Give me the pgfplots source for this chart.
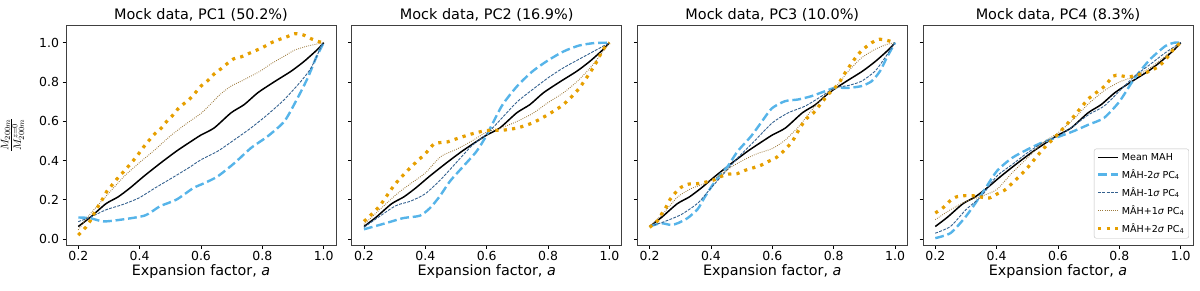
\documentclass[border=0pt]{standalone}
\usepackage{fontspec}
\setmainfont{DejaVu Sans}
\usepackage{pgfplots}
\pgfplotsset{compat=1.18}
\definecolor{cLB}{HTML}{56B4E9}
\definecolor{cOR}{HTML}{E69F00}
\definecolor{cDB}{HTML}{34618F}
\definecolor{cBR}{HTML}{9C7A3C}
\pgfplotsset{
  panel/.style={
    width=270bp, height=220bp, scale only axis,
    xmin=0.16, xmax=1.04, ymin=-0.03, ymax=1.09,
    xtick={0.2,0.4,0.6,0.8,1.0}, ytick={0,0.2,0.4,0.6,0.8,1.0},
    tick align=outside, xtick pos=bottom, ytick pos=left,
    major tick length=3.5bp,
    every tick/.style={black, line width=0.8bp},
    axis line style={black!75, line width=0.8bp},
    /pgf/number format/assume math mode=true,
    tick label style={font=\fontsize{12.5}{14}\selectfont},
    xticklabel style={yshift=1bp, /pgf/number format/.cd, fixed, fixed zerofill, precision=1},
    yticklabel style={/pgf/number format/.cd, fixed, fixed zerofill, precision=1},
    every axis title shift=3bp,
    title style={font=\fontsize{14.5}{16}\selectfont, inner sep=0pt, anchor=south},
    xlabel={Expansion factor, \textit{a}},
    xlabel style={at={(axis description cs:0.5,0)}, anchor=north, inner sep=0pt, yshift=-19bp, font=\fontsize{14.4}{16}\selectfont},
    legend image code/.code={\draw[##1] (0bp,0bp) -- (20bp,0bp);},
  },
  mean/.style={black, line width=1.5bp, smooth, tension=0.4},
  mtwo/.style={cLB, line width=2.4bp, dash pattern=on 8.8bp off 3.8bp, smooth, tension=0.4},
  mone/.style={cDB, line width=0.9bp, dash pattern=on 2.9bp off 1.3bp, smooth, tension=0.4},
  pone/.style={cBR, line width=0.9bp, dash pattern=on 0.8bp off 1.3bp, smooth, tension=0.4},
  ptwo/.style={cOR, line width=3.2bp, dash pattern=on 3.2bp off 5.2bp, smooth, tension=0.4},
}
\newcommand{\meandata}{(0.2,0.064)(0.24,0.112)(0.29,0.18)(0.33,0.215)(0.37,0.262)(0.413,0.319)(0.468,0.387)(0.522,0.45)(0.576,0.506)(0.6,0.53)(0.643,0.566)(0.698,0.643)(0.741,0.685)(0.785,0.745)(0.839,0.801)(0.894,0.855)(0.937,0.906)(0.98,0.966)(1.0,1.0)}
\begin{document}
\begin{tikzpicture}
\path[use as bounding box] (0bp,0bp) rectangle (1200bp,291bp);
% Panel 1
\begin{axis}[panel, at={(66bp,46bp)}, anchor=south west,
  title={Mock data, PC1 (50.2\%)},
  ylabel={$\frac{M_{200m}}{M^{z=0}_{200m}}$},
  ylabel style={at={(axis description cs:0,0.5)}, anchor=center, yshift=53.5bp, inner sep=0pt, font=\fontsize{16}{18}\selectfont}]
\addplot[mean] coordinates {\meandata};
\addplot[mtwo] coordinates {(0.2,0.11)(0.238,0.107)(0.281,0.09)(0.335,0.098)(0.417,0.12)(0.466,0.167)(0.52,0.201)(0.575,0.26)(0.611,0.285)(0.654,0.319)(0.709,0.387)(0.763,0.464)(0.817,0.523)(0.872,0.6)(0.915,0.719)(0.948,0.821)(0.975,0.923)(1.0,1.0)};
\addplot[mone] coordinates {(0.2,0.089)(0.24,0.112)(0.29,0.149)(0.343,0.175)(0.397,0.209)(0.45,0.26)(0.505,0.311)(0.559,0.362)(0.6,0.404)(0.654,0.447)(0.709,0.506)(0.763,0.566)(0.817,0.634)(0.872,0.711)(0.926,0.804)(0.959,0.872)(0.99,0.975)(1.0,1.0)};
\addplot[pone] coordinates {(0.2,0.047)(0.24,0.13)(0.3,0.235)(0.35,0.32)(0.4,0.39)(0.45,0.455)(0.5,0.525)(0.55,0.585)(0.6,0.64)(0.633,0.69)(0.665,0.74)(0.698,0.779)(0.731,0.804)(0.763,0.83)(0.796,0.858)(0.828,0.892)(0.872,0.932)(0.905,0.962)(0.948,0.983)(1.0,1.0)};
\addplot[ptwo] coordinates {(0.2,0.02)(0.225,0.061)(0.239,0.093)(0.252,0.132)(0.266,0.17)(0.28,0.206)(0.293,0.243)(0.31,0.275)(0.327,0.308)(0.346,0.34)(0.364,0.372)(0.382,0.405)(0.398,0.437)(0.414,0.471)(0.432,0.505)(0.45,0.537)(0.47,0.564)(0.487,0.597)(0.507,0.629)(0.525,0.663)(0.544,0.689)(0.565,0.716)(0.582,0.746)(0.6,0.779)(0.622,0.807)(0.641,0.838)(0.665,0.867)(0.685,0.893)(0.707,0.918)(0.731,0.928)(0.756,0.945)(0.78,0.961)(0.805,0.979)(0.828,0.999)(0.853,1.015)(0.88,1.03)(0.907,1.046)(0.934,1.039)(0.959,1.02)(0.984,1.005)(1.0,1.0)};
\end{axis}
% Panel 2
\begin{axis}[panel, at={(351.7bp,46bp)}, anchor=south west, yticklabels={},
  title={Mock data, PC2 (16.9\%)}]
\addplot[mean] coordinates {\meandata};
\addplot[mtwo] coordinates {(0.2,0.05)(0.273,0.082)(0.328,0.107)(0.382,0.119)(0.415,0.158)(0.447,0.218)(0.48,0.294)(0.524,0.371)(0.567,0.447)(0.6,0.53)(0.65,0.68)(0.7,0.78)(0.75,0.855)(0.8,0.91)(0.85,0.955)(0.9,0.985)(0.95,0.998)(1.0,1.0)};
\addplot[mone] coordinates {(0.2,0.06)(0.3,0.167)(0.35,0.192)(0.4,0.231)(0.45,0.303)(0.5,0.388)(0.55,0.473)(0.6,0.535)(0.65,0.617)(0.7,0.7)(0.75,0.762)(0.8,0.821)(0.85,0.872)(0.9,0.915)(0.95,0.957)(1.0,1.0)};
\addplot[pone] coordinates {(0.2,0.075)(0.3,0.22)(0.35,0.28)(0.4,0.337)(0.45,0.42)(0.5,0.456)(0.55,0.498)(0.6,0.545)(0.65,0.568)(0.7,0.6)(0.75,0.64)(0.8,0.695)(0.85,0.745)(0.9,0.81)(0.95,0.895)(1.0,1.0)};
\addplot[ptwo] coordinates {(0.2,0.09)(0.25,0.167)(0.3,0.277)(0.35,0.362)(0.4,0.435)(0.43,0.486)(0.47,0.494)(0.5,0.51)(0.55,0.535)(0.6,0.553)(0.65,0.554)(0.7,0.566)(0.75,0.592)(0.8,0.634)(0.85,0.685)(0.9,0.765)(0.95,0.88)(0.98,0.966)(1.0,1.0)};
\end{axis}
% Panel 3
\begin{axis}[panel, at={(637.3bp,46bp)}, anchor=south west, yticklabels={},
  title={Mock data, PC3 (10.0\%)}]
\addplot[mean] coordinates {\meandata};
\addplot[mtwo] coordinates {(0.2,0.064)(0.237,0.081)(0.27,0.072)(0.292,0.081)(0.324,0.107)(0.357,0.153)(0.378,0.209)(0.406,0.277)(0.433,0.333)(0.455,0.371)(0.487,0.447)(0.531,0.524)(0.563,0.592)(0.598,0.665)(0.641,0.702)(0.685,0.711)(0.728,0.728)(0.772,0.753)(0.804,0.77)(0.848,0.77)(0.891,0.779)(0.924,0.804)(0.951,0.855)(0.973,0.923)(1.0,1.0)};
\addplot[mone] coordinates {(0.2,0.064)(0.248,0.089)(0.302,0.124)(0.357,0.183)(0.4,0.26)(0.444,0.337)(0.487,0.413)(0.541,0.498)(0.6,0.592)(0.652,0.643)(0.707,0.677)(0.761,0.728)(0.804,0.77)(0.848,0.782)(0.891,0.804)(0.935,0.855)(0.967,0.923)(1.0,1.0)};
\addplot[pone] coordinates {(0.2,0.064)(0.248,0.137)(0.291,0.214)(0.335,0.257)(0.378,0.282)(0.422,0.318)(0.465,0.366)(0.509,0.405)(0.552,0.436)(0.6,0.461)(0.641,0.503)(0.685,0.571)(0.728,0.656)(0.772,0.733)(0.804,0.77)(0.848,0.855)(0.891,0.923)(0.935,0.966)(0.973,0.991)(1.0,1.0)};
\addplot[ptwo] coordinates {(0.2,0.06)(0.226,0.093)(0.239,0.127)(0.253,0.161)(0.266,0.2)(0.283,0.234)(0.302,0.263)(0.327,0.28)(0.354,0.282)(0.382,0.29)(0.409,0.301)(0.433,0.319)(0.458,0.331)(0.485,0.333)(0.511,0.35)(0.536,0.362)(0.563,0.376)(0.588,0.396)(0.611,0.413)(0.633,0.442)(0.652,0.473)(0.669,0.507)(0.682,0.544)(0.696,0.58)(0.712,0.614)(0.732,0.639)(0.75,0.673)(0.766,0.705)(0.785,0.741)(0.804,0.77)(0.821,0.804)(0.835,0.841)(0.85,0.876)(0.866,0.912)(0.882,0.944)(0.902,0.974)(0.924,1.0)(0.948,1.017)(0.973,1.012)(1.0,1.0)};
\end{axis}
% Panel 4
\begin{axis}[panel, at={(923bp,46bp)}, anchor=south west, yticklabels={},
  title={Mock data, PC4 (8.3\%)},
  legend cell align=left,
  legend style={at={(rel axis cs:0.985,0.03)}, anchor=south east, draw=black!25, rounded corners=2bp,
    fill=white, inner sep=2.5bp, row sep=3.6bp, font=\fontsize{9.6}{11}\selectfont,
    /tikz/every even column/.append style={column sep=2bp}}]
\addplot[mean] coordinates {\meandata};
\addlegendentry{Mean MAH}
\addplot[mtwo] coordinates {(0.2,0.005)(0.25,0.031)(0.3,0.116)(0.35,0.226)(0.4,0.345)(0.45,0.413)(0.5,0.456)(0.55,0.493)(0.6,0.52)(0.65,0.549)(0.7,0.583)(0.75,0.617)(0.8,0.7)(0.85,0.82)(0.9,0.915)(0.95,0.983)(0.98,1.0)(1.0,1.0)};
\addlegendentry{MÂH-2{\itshape σ} PC\textsubscript{4}}
\addplot[mone] coordinates {(0.2,0.03)(0.25,0.065)(0.3,0.15)(0.35,0.218)(0.4,0.32)(0.45,0.379)(0.5,0.439)(0.55,0.49)(0.6,0.524)(0.65,0.575)(0.7,0.634)(0.75,0.677)(0.8,0.753)(0.85,0.83)(0.9,0.889)(0.95,0.949)(1.0,1.0)};
\addlegendentry{MÂH-1{\itshape σ} PC\textsubscript{4}}
\addplot[pone] coordinates {(0.2,0.099)(0.25,0.15)(0.3,0.192)(0.35,0.218)(0.4,0.252)(0.45,0.337)(0.5,0.413)(0.55,0.49)(0.6,0.541)(0.65,0.61)(0.7,0.69)(0.75,0.755)(0.8,0.8)(0.85,0.828)(0.9,0.872)(0.95,0.932)(1.0,1.0)};
\addlegendentry{MÂH+1{\itshape σ} PC\textsubscript{4}}
\addplot[ptwo] coordinates {(0.2,0.133)(0.224,0.158)(0.246,0.192)(0.267,0.214)(0.294,0.221)(0.322,0.221)(0.349,0.214)(0.376,0.209)(0.403,0.231)(0.425,0.248)(0.446,0.277)(0.468,0.311)(0.5,0.362)(0.55,0.456)(0.6,0.535)(0.65,0.622)(0.7,0.715)(0.75,0.776)(0.78,0.83)(0.8,0.833)(0.83,0.825)(0.85,0.833)(0.88,0.844)(0.9,0.856)(0.93,0.881)(0.96,0.932)(0.98,0.974)(1.0,1.0)};
\addlegendentry{MÂH+2{\itshape σ} PC\textsubscript{4}}
\end{axis}
\end{tikzpicture}
\end{document}
